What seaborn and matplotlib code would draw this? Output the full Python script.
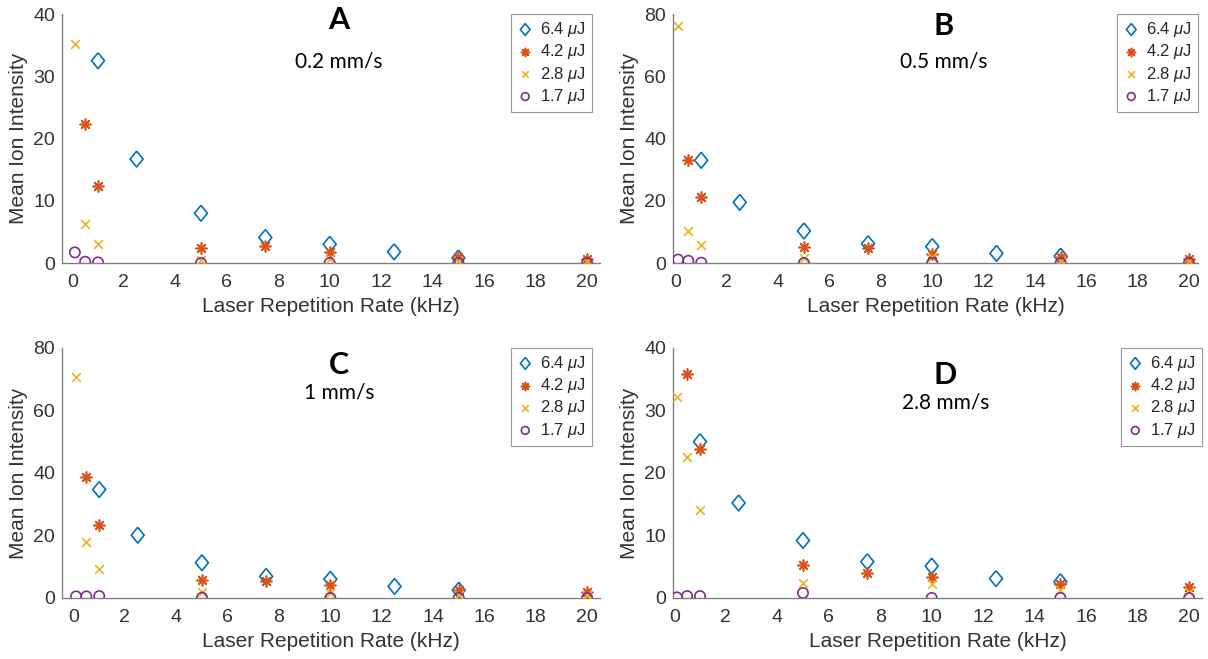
import numpy as np
import pandas as pd
import matplotlib
matplotlib.use('Agg')
import matplotlib.pyplot as plt
import seaborn as sns

sns.set_theme(style='white')
plt.rcParams['font.family'] = ['Liberation Sans', 'DejaVu Sans']
plt.rcParams['mathtext.fontset'] = 'custom'
plt.rcParams['mathtext.it'] = 'Liberation Sans:italic'

# 반복률 (kHz)
rate_64 = [1, 2.5, 5, 7.5, 10, 12.5, 15]
rate_42 = [0.5, 1, 5, 7.5, 10, 15, 20]
rate_28 = [0.1, 0.5, 1, 5, 10, 15, 20]
rate_17 = [0.1, 0.5, 1, 5, 10, 15, 20]

# A: 0.2 mm/s
a_64 = [32.5, 16.7, 8.0, 4.1, 3.0, 1.8, 0.8]
a_42 = [22.4, 12.3, 2.4, 2.7, 1.8, 0.9, 0.6]
a_28 = [35.2, 6.2, 3.1, 0.5, 0.6, 0.4, 0.3]
a_17 = [1.7, 0.2, 0.1, 0.0, 0.0, 0.0, 0.0]

# B: 0.5 mm/s
b_64 = [33.0, 19.5, 10.3, 6.2, 5.3, 3.1, 2.2]
b_42 = [33.2, 21.3, 5.3, 4.9, 2.8, 1.8, 1.2]
b_28 = [76.2, 10.3, 5.8, 1.5, 2.0, 0.8, 0.8]
b_17 = [1.1, 0.7, 0.1, 0.0, 0.0, 0.0, 0.0]

# C: 1 mm/s
c_64 = [34.7, 20.1, 11.3, 6.9, 6.0, 3.7, 2.5]
c_42 = [38.8, 23.2, 5.6, 5.4, 4.1, 2.4, 1.9]
c_28 = [70.7, 17.9, 9.2, 1.8, 1.5, 1.0, 1.0]
c_17 = [0.5, 0.5, 0.6, 0.1, 0.0, 0.0, 0.0]

# D: 2.8 mm/s
d_64 = [25.0, 15.2, 9.2, 5.8, 5.1, 3.1, 2.6]
d_42 = [35.8, 23.8, 5.2, 4.0, 3.3, 2.2, 1.8]
d_28 = [32.2, 22.6, 14.1, 2.4, 2.3, 1.2, 1.0]
d_17 = [0.1, 0.3, 0.3, 0.8, 0.0, 0.0, 0.0]

panel_letters = ['A', 'B', 'C', 'D']
panel_speeds = ['0.2 mm/s', '0.5 mm/s', '1 mm/s', '2.8 mm/s']
panel_data = [(a_64, a_42, a_28, a_17), (b_64, b_42, b_28, b_17),
              (c_64, c_42, c_28, c_17), (d_64, d_42, d_28, d_17)]
y_max = [40, 80, 80, 40]
y_step = [10, 20, 20, 10]
x_lims = [(-0.4, 20.5), (-0.1, 20.35), (-0.45, 20.5), (-0.05, 20.5)]

energy_labels = [r'6.4 $\mu$J', r'4.2 $\mu$J', r'2.8 $\mu$J', r'1.7 $\mu$J']
rates = [rate_64, rate_42, rate_28, rate_17]
colors = ['#0072BD', '#D95319', '#EDB120', '#7E2F8E']
# MATLAB 스타일 마름모 (약간 세로로 긴 형태)
diamond = [(0, 1), (0.82, 0), (0, -1), (-0.82, 0), (0, 1)]
markers = [diamond, (8, 2, 0), 'x', 'o']
sizes = [130, 60, 40, 55]
filled = [True, False, False, True]

# 축 위치 (figure fraction)
positions = [
    [0.0513, 0.6009, 0.4454, 0.3778],
    [0.5571, 0.6009, 0.4346, 0.3778],
    [0.0513, 0.0926, 0.4454, 0.3794],
    [0.5571, 0.0926, 0.4379, 0.3794],
]
letter_y = [0.975, 0.95, 0.93, 0.89]
speed_y = [0.81, 0.81, 0.82, 0.78]
legend_x = [0.985, 1.0, 0.985, 1.0]

fig = plt.figure(figsize=(12.08, 6.59), dpi=100)

for k in range(4):
    ax = fig.add_axes(positions[k])
    for s in range(4):
        kw = dict(x=rates[s], y=panel_data[k][s], marker=markers[s], s=sizes[s],
                  ax=ax, label=energy_labels[s], linewidth=1.2, zorder=3 + s)
        if filled[s]:
            kw.update(facecolor='none', edgecolor=colors[s])
        else:
            kw.update(color=colors[s])
        sns.scatterplot(**kw)

    ax.set_xlim(*x_lims[k])
    ax.set_ylim(0, y_max[k])
    ax.set_xticks(np.arange(0, 21, 2))
    ax.set_yticks(np.arange(0, y_max[k] + 1, y_step[k]))
    ax.tick_params(direction='in', length=5, width=1, color='#808080',
                   labelsize=14, labelcolor='#333333')
    ax.tick_params(axis='x', pad=8)
    ax.tick_params(axis='y', pad=5)
    for side in ['top', 'right']:
        ax.spines[side].set_visible(False)
    for side in ['left', 'bottom']:
        ax.spines[side].set_color('#808080')
        ax.spines[side].set_linewidth(1)
    ax.set_facecolor('white')
    ax.set_xlabel('Laser Repetition Rate (kHz)', fontsize=15, color='#333333', labelpad=4)
    ax.set_ylabel('Mean Ion Intensity', fontsize=15, color='#333333', labelpad=4)

    ax.text(0.515, letter_y[k], panel_letters[k], transform=ax.transAxes,
            ha='center', va='center', fontsize=22, fontweight='bold',
            family=['Lato', 'DejaVu Sans'], color='black')
    ax.text(0.515, speed_y[k], panel_speeds[k], transform=ax.transAxes,
            ha='center', va='center', fontsize=15,
            family=['Lato', 'DejaVu Sans'], color='black')

    leg = ax.legend(loc='upper right', bbox_to_anchor=(legend_x[k], 1.0), fontsize=12,
                    frameon=True, fancybox=False, edgecolor='#999999',
                    framealpha=1, borderpad=0.35, labelspacing=0.2,
                    handletextpad=0.4, handlelength=1.0, borderaxespad=0.0,
                    markerscale=0.75)
    leg.get_frame().set_linewidth(0.8)

fig.savefig('out.png', dpi=100, facecolor='white')
